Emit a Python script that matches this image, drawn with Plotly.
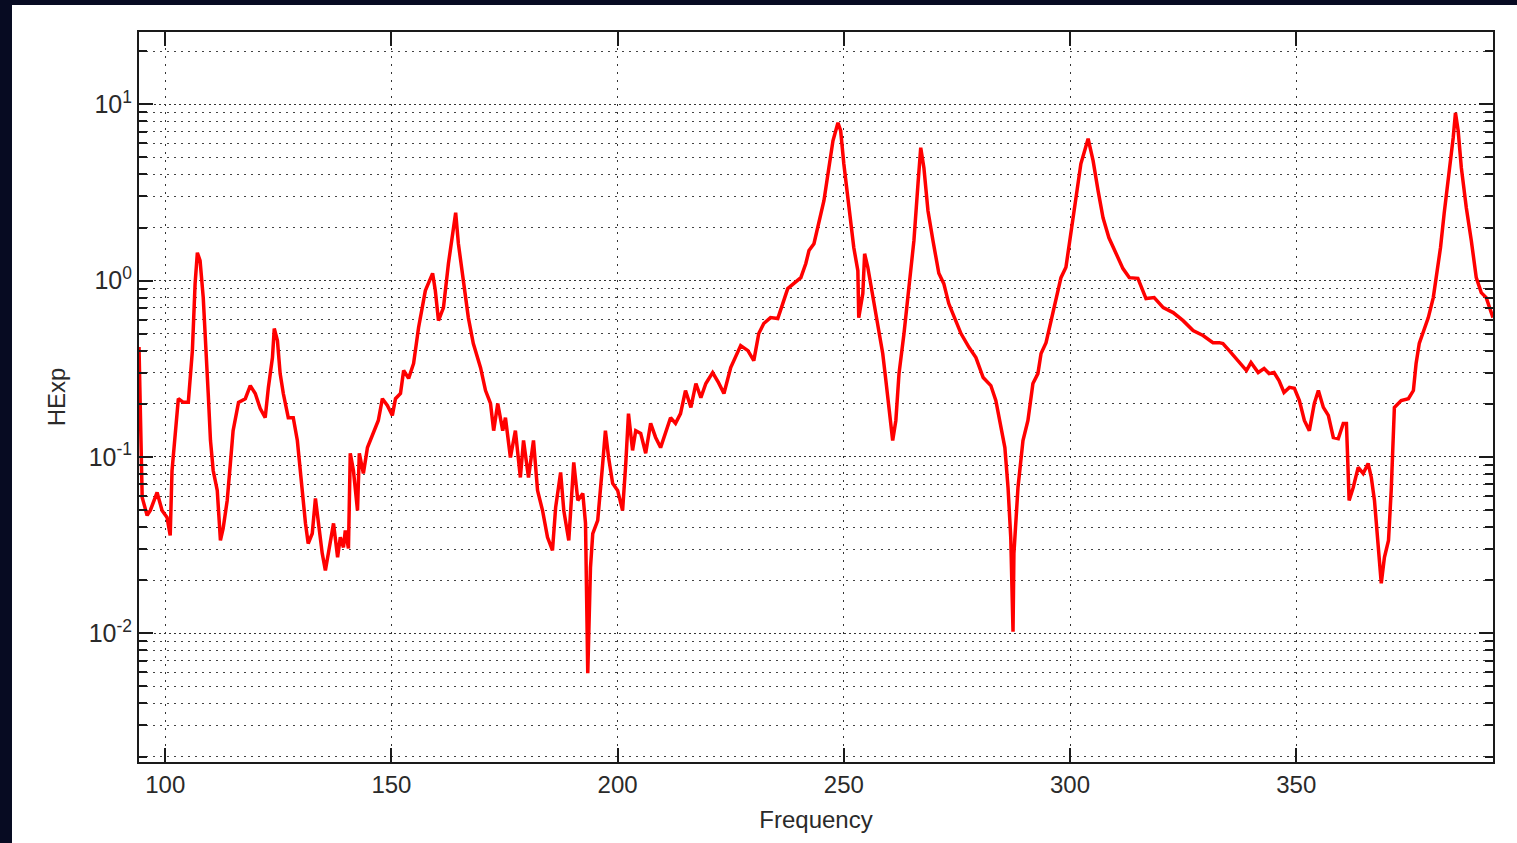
import plotly.graph_objects as go

freq = [94.2, 94.7, 94.9, 96.0, 96.7, 98.2, 99.3, 100.4, 101.1, 101.5, 102.2, 102.9, 104.0, 105.1,
        106.0, 106.6, 107.1, 107.7, 108.4, 109.1, 109.5, 110.0, 110.6, 111.5, 112.2, 112.8, 113.7,
        114.4, 115.0, 116.2, 117.7, 118.8, 119.9, 121.0, 122.1, 122.8, 123.7, 124.1, 124.8, 125.4,
        126.1, 127.2, 128.3, 129.2, 130.3, 131.0, 131.6, 132.5, 133.2, 133.8, 134.7, 135.4, 136.1,
        137.2, 138.1, 138.7, 139.4, 139.8, 140.5, 140.9, 141.6, 142.5, 142.9, 143.8, 144.7, 146.0,
        147.1, 148.0, 149.1, 150.2, 150.9, 152.0, 152.7, 153.8, 154.2, 154.9, 156.0, 157.5, 159.1,
        159.7, 160.4, 161.5, 162.6, 163.5, 164.2, 164.8, 165.9, 167.0, 168.1, 169.7, 170.8, 171.9,
        172.6, 173.5, 174.6, 175.2, 176.3, 177.4, 178.5, 179.2, 180.3, 181.4, 182.3, 183.4, 184.5,
        185.6, 186.3, 187.4, 188.1, 189.2, 190.3, 191.2, 192.3, 192.9, 193.4, 194.0, 194.5, 195.6,
        196.7, 197.3, 198.0, 198.9, 200.0, 201.1, 201.8, 202.4, 203.3, 204.0, 205.1, 206.2, 207.3,
        208.4, 209.5, 210.6, 211.7, 212.8, 213.9, 215.0, 216.2, 217.3, 218.4, 219.5, 221.0, 222.3,
        223.5, 225.0, 226.1, 227.2, 228.8, 230.1, 231.2, 232.3, 233.8, 235.4, 236.5, 237.6, 238.9,
        240.5, 241.6, 242.3, 243.4, 244.5, 245.6, 246.7, 247.6, 248.7, 249.3, 250.0, 250.9, 251.5,
        252.2, 253.1, 253.3, 254.2, 254.6, 255.3, 256.4, 257.5, 258.6, 259.3, 260.0, 260.8, 261.5,
        262.2, 263.3, 264.4, 265.5, 266.4, 267.0, 267.7, 268.6, 269.7, 271.0, 272.1, 273.2, 274.1,
        275.9, 277.7, 279.2, 280.8, 282.5, 283.6, 284.7, 285.6, 286.3, 286.9, 287.4, 287.6, 288.5,
        289.6, 290.7, 291.8, 292.9, 293.6, 294.7, 295.8, 296.9, 298.0, 299.1, 300.2, 301.3, 302.4,
        304.0, 305.1, 306.2, 307.3, 308.6, 310.2, 311.7, 313.1, 315.0, 316.8, 318.6, 320.6, 322.8,
        325.0, 327.2, 329.4, 331.6, 333.0, 333.8, 335.2, 337.2, 339.0, 340.0, 341.6, 342.9, 344.0,
        345.1, 346.2, 347.3, 348.5, 349.6, 350.7, 351.8, 352.9, 354.0, 354.9, 356.0, 357.1, 358.2,
        359.3, 360.4, 361.1, 361.7, 362.6, 363.7, 364.8, 365.9, 366.6, 367.3, 368.1, 368.8, 369.5,
        370.4, 371.0, 371.7, 373.2, 374.8, 375.9, 376.5, 377.2, 378.1, 379.2, 380.3, 381.0, 381.9,
        382.7, 383.8, 384.7, 385.2, 385.8, 386.5, 387.6, 388.7, 389.8, 390.9, 392.0, 393.5]

hexp = [0.42, 0.0646, 0.059, 0.0466, 0.0497, 0.0629, 0.0497, 0.0454, 0.0359, 0.0838, 0.127, 0.214, 0.204, 0.204,
        0.401, 0.961, 1.44, 1.30, 0.801, 0.401, 0.229, 0.124, 0.0838, 0.0646, 0.0336, 0.0393, 0.0567,
        0.0918, 0.141, 0.204, 0.214, 0.254, 0.229, 0.188, 0.167, 0.248, 0.366, 0.535, 0.457, 0.297,
        0.229, 0.167, 0.167, 0.124, 0.0621, 0.0420, 0.0323, 0.0368, 0.0582, 0.0437, 0.0284, 0.0227, 0.0284,
        0.0420, 0.0270, 0.0350, 0.0307, 0.0383, 0.0303, 0.105, 0.0838, 0.0497, 0.105, 0.0806, 0.113, 0.136,
        0.161, 0.214, 0.196, 0.172, 0.214, 0.229, 0.309, 0.279, 0.301, 0.339, 0.542, 0.878, 1.10,
        0.878, 0.593, 0.703, 1.25, 1.75, 2.43, 1.62, 1.0, 0.617, 0.440, 0.321, 0.238, 0.201,
        0.141, 0.201, 0.141, 0.167, 0.0993, 0.141, 0.0765, 0.124, 0.0765, 0.124, 0.0646, 0.0497, 0.0350,
        0.0295, 0.0518, 0.0817, 0.0497, 0.0336, 0.0931, 0.0567, 0.0621, 0.0420, 0.00593, 0.0236, 0.0368, 0.0437,
        0.0918, 0.141, 0.0993, 0.0708, 0.0646, 0.0497, 0.0918, 0.176, 0.109, 0.141, 0.136, 0.105, 0.155,
        0.129, 0.113, 0.136, 0.167, 0.155, 0.176, 0.238, 0.191, 0.261, 0.217, 0.261, 0.301, 0.264,
        0.229, 0.321, 0.366, 0.428, 0.401, 0.352, 0.501, 0.571, 0.617, 0.609, 0.741, 0.901, 0.961,
        1.04, 1.25, 1.48, 1.62, 2.10, 2.84, 4.37, 6.21, 7.86, 7.08, 4.60, 2.95, 2.00,
        1.54, 1.14, 0.617, 0.844, 1.42, 1.19, 0.801, 0.571, 0.386, 0.271, 0.183, 0.124, 0.161,
        0.297, 0.501, 0.913, 1.69, 3.55, 5.67, 4.37, 2.49, 1.69, 1.10, 0.961, 0.741, 0.650,
        0.501, 0.417, 0.366, 0.282, 0.254, 0.209, 0.147, 0.113, 0.0671, 0.0350, 0.0102, 0.0284, 0.0671,
        0.124, 0.161, 0.261, 0.297, 0.386, 0.445, 0.593, 0.801, 1.04, 1.19, 1.85, 2.95, 4.60,
        6.38, 4.79, 3.24, 2.27, 1.75, 1.42, 1.17, 1.04, 1.03, 0.791, 0.801, 0.703, 0.659,
        0.593, 0.521, 0.488, 0.445, 0.445, 0.440, 0.401, 0.352, 0.309, 0.343, 0.301, 0.317, 0.297,
        0.301, 0.271, 0.232, 0.248, 0.245, 0.209, 0.161, 0.141, 0.201, 0.238, 0.191, 0.172, 0.129,
        0.127, 0.155, 0.155, 0.0567, 0.0671, 0.0872, 0.0806, 0.0918, 0.0765, 0.0567, 0.0336, 0.0192, 0.0270,
        0.0336, 0.0646, 0.191, 0.209, 0.214, 0.238, 0.339, 0.440, 0.521, 0.617, 0.801, 1.04, 1.54,
        2.40, 4.04, 6.46, 8.95, 7.08, 4.37, 2.59, 1.69, 1.04, 0.855, 0.801, 0.617]

x_ticks = [100, 150, 200, 250, 300, 350]
y_ticks = [0.01, 0.1, 1, 10]
y_ticktext = ["10<sup>-2</sup>", "10<sup>-1</sup>", "10<sup>0</sup>", "10<sup>1</sup>"]
y_minor = [m * 10 ** e for e in range(-3, 2) for m in range(2, 10)]

FONT = "Liberation Sans, Arial, sans-serif"
AX = "#1a1a1a"
TXT = "#2a2a2a"

fig = go.Figure()
fig.add_trace(go.Scatter(x=freq, y=hexp, mode="lines",
                         line=dict(color="#ff0000", width=3.5), showlegend=False))

fig.update_layout(
    width=1517, height=843, autosize=False,
    margin=dict(l=139, r=24, t=32, b=81),
    paper_bgcolor="#070b22",
    plot_bgcolor="white",
    font=dict(family=FONT, size=24, color=TXT),
    shapes=[dict(type="rect", xref="paper", yref="paper",
                 x0=-0.0938, x1=1.03, y0=-0.13, y1=1.037,
                 fillcolor="white", line=dict(width=0), layer="below")],
)

fig.update_xaxes(
    range=[94.2, 393.5],
    tickmode="array", tickvals=x_ticks,
    ticks="inside", ticklen=14, tickwidth=1.5, tickcolor=AX,
    showline=True, linecolor=AX, linewidth=2, mirror="allticks",
    showgrid=True, gridcolor="#333", gridwidth=1, griddash="2px,6px",
    zeroline=False,
    tickfont=dict(family=FONT, size=24, color=TXT),
    title=dict(text="Frequency", font=dict(family=FONT, size=24, color=TXT), standoff=14),
)

fig.update_yaxes(
    type="log", range=[-2.73, 1.41],
    tickmode="array", tickvals=y_ticks, ticktext=y_ticktext,
    ticks="inside", ticklen=14, tickwidth=1.5, tickcolor=AX,
    showline=True, linecolor=AX, linewidth=2, mirror="allticks",
    showgrid=True, gridcolor="#333", gridwidth=1, griddash="2px,3px",
    zeroline=False,
    minor=dict(tickmode="array", tickvals=y_minor, ticks="inside", ticklen=8,
               tickwidth=1.5, tickcolor=AX, showgrid=True, gridcolor="#444",
               gridwidth=1, griddash="2px,5px"),
    tickfont=dict(family=FONT, size=25, color=TXT),
    title=dict(text="HExp", font=dict(family=FONT, size=24, color=TXT), standoff=16),
)

fig.write_html("out.html")
